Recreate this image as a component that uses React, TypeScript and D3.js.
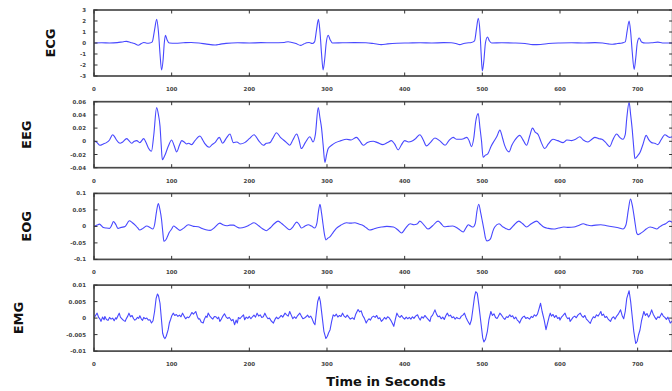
import React from 'react';
import * as d3 from 'd3';

// [time (s), amplitude]
const ecgData: [number, number][] = [
  [0, 0], [10, 0.02], [20, 0], [30, 0.03], [38, 0.12], [42, 0.15], [47, 0.05], [52, -0.05], [57, -0.2], [61, -0.05],
  [64, 0.05], [68, -0.02], [72, 0], [75, 0.1], [78, 1.2], [80.7, 2.15], [83, 1.0], [85, -1.0], [87, -2.45], [89, -1.5],
  [90.5, 0], [92, 0.7], [94, 0.3], [97, 0], [105, -0.02], [115, 0.02], [125, 0.05], [135, 0], [145, -0.1], [156, -0.18],
  [163, -0.1], [170, -0.03], [185, 0.02], [200, 0], [215, 0.03], [230, 0.02], [245, 0.05], [250, 0.12], [255, 0.05],
  [260, -0.05], [266, -0.22], [270, -0.1], [274, 0.02], [277, 0.05], [281, -0.05], [284, 0.1], [286.5, 1.2], [289, 2.15],
  [291, 1.0], [293, -1.0], [295, -2.45], [297, -1.5], [299, 0], [301.6, 0.7], [304, 0.3], [307, 0], [320, 0.02],
  [335, 0.03], [350, 0.02], [360, -0.05], [370, -0.15], [378, -0.08], [390, -0.02], [405, 0], [420, 0.02], [435, 0],
  [450, 0.03], [460, 0.02], [466, -0.05], [471, -0.15], [476, -0.05], [480, 0], [486, 0.05], [490, 0.2], [492.5, 1.3],
  [494.8, 2.25], [497, 1.0], [498.5, -1.0], [500, -2.55], [502, -1.6], [504, 0], [506.6, 0.55], [509, 0.2], [512, 0],
  [525, 0.02], [540, 0], [555, -0.05], [565, -0.15], [575, -0.13], [585, -0.05], [600, 0], [615, 0.02], [630, 0],
  [645, 0.03], [655, 0], [662, -0.08], [668, -0.12], [674, -0.05], [680, 0], [684, 0.1], [686.5, 1.1], [689, 2.0],
  [691, 1.0], [693, -0.8], [695.5, -2.4], [697.5, -1.4], [699.5, 0], [702, 0.45], [705, 0.1], [710, 0], [718, 0.02],
  [726, 0.08], [732, 0], [745, 0],
];

const eegData: [number, number][] = [
  [0, 0.001], [4, -0.002], [7.7, -0.006], [12, -0.004], [16, -0.002], [20, 0.002], [24, 0.01], [27, 0.006], [29, 0.002],
  [33.5, -0.003], [37, -0.001], [42, 0.004], [45, 0.001], [48.5, -0.003], [52, 0], [55, 0.001], [59, -0.002], [64, 0.004],
  [67, -0.002], [70, -0.01], [74, -0.015], [77, 0.01], [80.6, 0.051], [83, 0.04], [85, 0.023], [86.5, -0.005],
  [88, -0.028], [91, -0.022], [95.5, -0.008], [100, 0.002], [103, -0.006], [106.5, -0.016], [110, -0.006], [113, 0.001],
  [116, -0.001], [119.5, -0.004], [122, -0.003], [125.6, -0.005], [130, 0.001], [136.4, 0.008], [140, 0.002],
  [143, -0.004], [148.4, -0.009], [152, -0.005], [155.7, -0.002], [161.3, 0.006], [165.6, -0.003], [170, 0.004],
  [175, 0.011], [179.5, -0.002], [184, -0.001], [188, -0.004], [194, -0.002], [200, 0.004], [206, 0.01], [212, 0.001],
  [218, -0.006], [222, -0.003], [226.5, -0.002], [230, 0.004], [235, 0.013], [240, 0.006], [244, 0.002], [248, -0.002],
  [252, -0.006], [256, 0.002], [261, 0.011], [264, 0.002], [267, -0.011], [272, -0.002], [278, 0.007], [282, -0.001],
  [285, 0.01], [288.7, 0.051], [291, 0.035], [293, 0.02], [295, -0.005], [297.3, -0.032], [299.5, -0.02],
  [301.6, -0.011], [306, -0.006], [311, -0.002], [318, 0.001], [325, 0.003], [331, 0.002], [338, 0.006], [342, 0.001],
  [346.7, -0.006], [352, -0.002], [359.5, 0], [365, -0.002], [372, -0.005], [378, -0.002], [383, 0.001], [387, -0.004],
  [391.7, -0.013], [396, -0.005], [400, 0.001], [405, -0.001], [409, 0], [414, 0.004], [419.6, 0.01], [424, 0.002],
  [428, -0.007], [433, -0.002], [439, 0.005], [445, 0.001], [452, -0.006], [457, 0.001], [462.4, 0.006], [467, 0.003],
  [471, 0.003], [476, 0.004], [480, 0.006], [483, 0.001], [486, -0.008], [489, 0.005], [491.5, 0.03], [494.7, 0.042],
  [497, 0.02], [499, 0], [501, -0.024], [504, -0.021], [507, -0.019], [511.5, -0.007], [516, 0.002], [519, 0.008],
  [522.6, 0.017], [526, 0.005], [529, -0.007], [534.5, -0.016], [538, -0.006], [542, 0.002], [548.3, 0.009],
  [552, 0.003], [557, -0.006], [561, 0.008], [564.6, 0.02], [568, 0.014], [572, 0.01], [576, -0.002], [580.4, -0.011],
  [585, -0.004], [591, 0.003], [597, 0.001], [604, -0.002], [609, 0.002], [615, 0.001], [620, 0.003], [625.5, 0.007],
  [630, 0.002], [636, -0.001], [641, 0.003], [645, 0.006], [650, 0.004], [654, 0.003], [659, -0.002], [664, -0.008],
  [668, 0.002], [673, 0.011], [677, 0.006], [681, 0.003], [684, 0.01], [686, 0.035], [689, 0.059], [691, 0.04],
  [693, 0.018], [695, -0.01], [696.4, -0.026], [700, -0.022], [703, -0.017], [707, -0.004], [711, 0.009], [714, 0.003],
  [718, -0.002], [722, -0.003], [726, -0.005], [730, 0.002], [735, 0.01], [741, 0.006], [745, 0.007],
];

const eogData: [number, number][] = [
  [0, 0], [4, 0.004], [7, 0.007], [12, -0.003], [16, -0.005], [20, -0.006], [23, 0.005], [25, 0.015], [28, 0.006],
  [31, -0.006], [35, -0.003], [40, 0], [45.5, 0.017], [49, 0.012], [53, 0.004], [56, -0.004], [59, -0.011], [63, -0.006],
  [68, 0.001], [72, -0.003], [75.7, -0.008], [78, 0.005], [80.5, 0.045], [82.8, 0.069], [85, 0.05], [87, 0.02],
  [88.5, -0.015], [90, -0.045], [92, -0.042], [94, -0.034], [97, -0.018], [100, -0.008], [102.5, 0.001], [106, -0.004],
  [110.7, -0.012], [115, -0.006], [121.5, 0.005], [128, 0], [134, -0.001], [139, -0.006], [144, -0.01], [149.6, -0.012],
  [155, -0.004], [162, 0.01], [166, 0.005], [171, 0.002], [175, 0.004], [179.5, 0.004], [184, -0.002], [188, -0.005],
  [194.5, -0.002], [200, 0.004], [206, 0.011], [212, 0.002], [217, -0.007], [222, -0.013], [227, -0.004], [232, 0.008],
  [237, 0.016], [242, 0.008], [246, 0], [252, -0.01], [256, -0.002], [261, 0.013], [264, 0.006], [267, -0.005],
  [271, 0], [276, 0.005], [280, 0.001], [284, -0.005], [287, 0.01], [289, 0.045], [291, 0.067], [293, 0.04], [295, 0.005],
  [296.8, -0.025], [298.6, -0.041], [301, -0.036], [304, -0.031], [308, -0.018], [312, -0.006], [318, 0.004],
  [325, 0.011], [330, 0.01], [336, 0.011], [341, 0.007], [347, 0.002], [351, -0.005], [355, -0.011], [360, -0.008],
  [364, -0.005], [370, -0.002], [377, 0], [385.6, -0.002], [391, -0.01], [396, -0.02], [401, -0.006], [407, 0.008],
  [412, 0.005], [416, 0.007], [419.6, 0.016], [425, 0.004], [430, -0.008], [436, 0.002], [443, 0.016], [447, 0.008],
  [451, -0.001], [456, 0], [462, 0.001], [469, -0.007], [475.5, -0.017], [479, -0.004], [482, 0.005], [485, 0.001],
  [488, -0.002], [491, 0.01], [493, 0.045], [495.4, 0.067], [498, 0.04], [500, 0.016], [502.5, -0.015], [504, -0.035],
  [506, -0.044], [508.5, -0.042], [511, -0.035], [513.5, -0.015], [516, -0.002], [521.5, 0.008], [526.7, -0.002],
  [530, -0.006], [534.5, -0.01], [540, 0.002], [547, 0.016], [552, 0.008], [557, -0.002], [563, 0.008], [570, 0.016],
  [574, 0.008], [579, -0.002], [585, -0.006], [592, -0.008], [598, -0.005], [605, -0.002], [611, -0.003], [618, -0.002],
  [624, 0.003], [630, 0.008], [635, 0.004], [640, 0.002], [646, 0.004], [652.6, 0.005], [660, 0.002], [669.8, -0.002],
  [675, -0.004], [681, -0.008], [685, 0.005], [688, 0.05], [690.8, 0.083], [693, 0.065], [695, 0.037], [697, 0.005],
  [698.8, -0.02], [700.5, -0.025], [703, -0.022], [707, -0.016], [711, -0.008], [716, -0.002], [720, -0.004],
  [724.6, -0.008], [728, -0.002], [731, 0.003], [736, 0.008], [741, 0.016], [745, 0.012],
];

const emgData: [number, number][] = [
  [0, 0], [2, 0.0008], [4, 0.0015], [6, 0.0002], [7.7, -0.0003], [9, -0.001], [11, 0.0003], [13, -0.0005], [14, 0.0005],
  [16, -0.0004], [18, -0.0007], [20, 0.0002], [22, -0.0003], [24, 0], [26, -0.0008], [28, 0.0001], [29, -0.0003],
  [31, 0.0008], [32.5, 0.0015], [34, 0.0003], [36, -0.0002], [38, -0.0007], [40, -0.001], [42, 0], [43.5, 0.0006],
  [45, 0.0015], [47, 0.0004], [49, 0.0008], [51, -0.0002], [52.5, -0.0006], [54, -0.0004], [56, 0.0002],
  [57.5, -0.0001], [59, 0.0007], [61, -0.0003], [62.5, -0.0007], [64, 0.0002], [66, -0.0002], [68, 0], [70, -0.0006],
  [72, -0.0005], [74, -0.0015], [76, -0.0008], [78, 0.002], [80, 0.006], [81.7, 0.0073], [83, 0.0068], [85, 0.0045],
  [86.5, 0.0005], [88.4, -0.0046], [90, -0.0058], [91.4, -0.0062], [93, -0.0055], [95.5, -0.0035], [97, -0.0015],
  [98.5, -0.0005], [100, 0.0006], [102, 0.0015], [104, 0.0008], [106, 0.0011], [108, 0.0005], [110, 0.0009],
  [112, 0.0004], [114, 0.0015], [116, 0.0006], [118, -0.0002], [120, 0.0003], [122, 0.0001], [124, 0.0008],
  [126, 0.0017], [128, 0.0012], [131, 0.002], [133, 0.0005], [134.5, -0.0003], [136, -0.0002], [138, -0.0012],
  [140.6, -0.0015], [142, -0.0004], [144, 0.0006], [145.5, 0.0002], [147, 0.0015], [149, 0.0007], [151, 0.0001],
  [153, -0.0003], [155, 0.0005], [157, 0.0004], [159, -0.0002], [160.5, 0.0003], [162, -0.001], [164, -0.0003],
  [166, 0.0006], [168, 0.0013], [170, 0.0004], [172, -0.0001], [174, 0.0002], [175.5, -0.0002], [177, -0.0008],
  [179, -0.0004], [181, -0.002], [183, -0.0006], [184.5, -0.0015], [186, 0.0002], [188, -0.0002], [190, 0.0004],
  [192.5, 0.001], [194, -0.0005], [196, 0.0003], [198, -0.0001], [200, 0.0005], [202, -0.0002], [204, 0.0004],
  [206, 0.0009], [208, 0.0003], [210, 0.0015], [212, 0.0006], [214, 0.001], [216, 0.0002], [218, 0.0004],
  [220, 0.0015], [222, 0.0005], [224, -0.0002], [226, 0], [228, -0.0008], [231, -0.0015], [233, -0.0004],
  [235, 0.0003], [237, -0.0002], [239, 0.0002], [241, 0.0008], [243, 0.0003], [246, 0.0015], [248, 0.001],
  [250, 0.0006], [252, 0.002], [254, 0.0009], [256, -0.0002], [258, 0.0004], [260, -0.0001], [262, 0.0007],
  [265, 0.0015], [267, 0.0006], [269, -0.0002], [271, 0], [273, 0.0004], [275, 0.0009], [277, 0.0002], [279, 0.0006],
  [281, -0.0003], [283, -0.0015], [284.5, -0.002], [286, 0.001], [288, 0.005], [290, 0.0065], [291.5, 0.005], [294, 0],
  [296, -0.004], [298.6, -0.0062], [300.5, -0.0055], [302, -0.0045], [304, -0.0035], [306, -0.001], [308, 0.001],
  [310, 0.0006], [312, 0.0012], [314, 0.0003], [316, 0.0008], [318, 0.0005], [320, 0.0015], [322, 0.0006],
  [324, 0.0002], [326, 0.0009], [328, 0.0003], [330, -0.0003], [333, 0.0001], [335, -0.0004], [337, 0.0012],
  [340, 0.0026], [342, 0.0019], [344, 0.0022], [346, 0.0008], [348, 0], [350.5, -0.0015], [352, -0.0008],
  [354, -0.0002], [356, -0.0006], [358, 0.0003], [360, 0.0006], [362, 0.0002], [364, 0.0008], [366, -0.0002],
  [368, 0.0001], [370, -0.001], [372, -0.0005], [374, 0.0002], [376, -0.0003], [378, 0.0004], [380, 0.0001],
  [382, -0.0006], [384, -0.0015], [386, -0.0025], [388, -0.0004], [390, 0.0015], [392, 0.0006], [394, 0.0002],
  [396, 0.0008], [398, 0.0001], [400, -0.0003], [402, 0.0003], [404, -0.0002], [406, 0.0002], [408, -0.0003],
  [410, 0.0004], [412, -0.0001], [414, 0.0006], [416.6, 0.001], [418, 0.0002], [420, -0.0006], [422, 0.0004], [424, 0],
  [426, 0.0008], [428, 0.0002], [430, -0.0003], [432.6, -0.001], [434, 0.0004], [436, 0.0009], [439, 0.0025],
  [441, 0.0012], [443, 0.0004], [445, 0.0006], [447, -0.0002], [449, 0.0003], [451, -0.0004], [453, 0.0007],
  [455, 0.0015], [457, 0.0006], [459, 0.0009], [461, 0.0001], [463, 0.0004], [465, -0.0003], [467, 0.0002],
  [469, -0.0001], [471, -0.0002], [473, 0.0006], [475, 0.0009], [477, 0.0015], [479, 0.0002], [481, -0.0008],
  [484, -0.002], [486, -0.0005], [488, 0.003], [490, 0.0065], [491.5, 0.008], [493.5, 0.0075], [495.5, 0.004],
  [497, 0.001], [498.5, -0.002], [500.5, -0.006], [502, -0.0072], [504, -0.0065], [506.5, -0.004], [508.5, -0.0005],
  [511, 0.002], [513, 0.0008], [515, 0.0013], [517, 0.0002], [519, -0.0001], [520.5, 0.0005], [522.6, 0.0015],
  [525, 0.0008], [527, 0.0001], [529, -0.0004], [531, 0.0004], [533, 0.0002], [535.4, 0.001], [537, 0.0004],
  [539, 0.0007], [541, -0.0002], [543, 0.0003], [545, -0.0006], [546.5, -0.0009], [548, -0.0015], [550, -0.0004],
  [552, 0.0003], [554, 0.0006], [556, -0.0001], [558, 0.0002], [561, -0.0003], [563, 0.0005], [565, 0.0002],
  [567, 0.001], [569, 0.0006], [571, 0.0012], [573, 0.0028], [575, 0.0045], [577, 0.002], [579.7, -0.0006],
  [582, -0.0035], [584, -0.0015], [586, 0.0004], [587.5, 0.0015], [589, 0.0006], [591, 0.0011], [593, 0.0002],
  [595, 0.0008], [597, -0.0001], [599, 0.0002], [600, -0.0006], [602, 0.0003], [604, 0.0008], [606.5, 0.0015],
  [608, 0.0005], [610, -0.0002], [612, 0.0001], [613, -0.001], [615, -0.0004], [617, 0.0003], [619, 0.0006],
  [621, 0.0001], [623, 0.0009], [626, 0.0015], [628, 0.0007], [630, 0.0002], [632, 0.0008], [634, -0.0003],
  [636, -0.0008], [639, -0.0016], [641, -0.0004], [643, 0.0004], [645, 0.0001], [647, 0.001], [649, 0.0006],
  [651, 0.0013], [652.6, 0.002], [654, 0.0008], [656, 0.0012], [658, 0.0002], [660, 0.0005], [662, -0.0003],
  [665, -0.001], [667, 0], [669, 0.0004], [671, -0.0003], [673, 0.0006], [675, 0.0012], [678, 0.0025], [680, 0.0008],
  [682, -0.0002], [684, 0.002], [686, 0.006], [689, 0.0083], [691, 0.005], [693, 0.0005], [695, -0.004],
  [697.5, -0.0077], [699.5, -0.007], [701, -0.0052], [703, -0.0036], [705, -0.0008], [708, 0.002], [710, 0.0008],
  [712, 0.0014], [714, 0.0003], [716, 0.0011], [718, 0.0025], [720, 0.0012], [722, 0.0003], [724, -0.0004],
  [726, 0.0004], [728, 0.0001], [731, 0.0015], [733, 0.0006], [735, 0.0002], [737, -0.0004], [739, 0.0003],
  [742, -0.0015], [745, -0.0008],
];

const channelNames = ['ECG', 'EEG', 'EOG', 'EMG'];
const xTicks = [0, 100, 200, 300, 400, 500, 600, 700];
const ecgTicks = [-3, -2, -1, 0, 1, 2, 3];
const eegTicks = [-0.04, -0.02, 0, 0.02, 0.04, 0.06];
const eogTicks = [-0.1, -0.05, 0, 0.05, 0.1];
const emgTicks = [-0.01, -0.005, 0, 0.005, 0.01];
const xLabel = 'Time in Seconds';

const channels = [
  { name: channelNames[0], data: ecgData, ticks: ecgTicks, smooth: true },
  { name: channelNames[1], data: eegData, ticks: eegTicks, smooth: true },
  { name: channelNames[2], data: eogData, ticks: eogTicks, smooth: true },
  { name: channelNames[3], data: emgData, ticks: emgTicks, smooth: false },
];

const width = 672;
const height = 391;
const left = 94;
const right = 672.6;
const panelTop = 10;
const panelStep = 91.7;
const panelH = 66;
const fmt = (v: number) => String(+v.toFixed(4));

const App = () => {
  const x = d3.scaleLinear().domain([0, 745]).range([left, right]);

  return (
    <svg
      width={width}
      height={height}
      style={{ position: 'absolute', left: 0, top: 0, background: '#fff', fontFamily: 'DejaVu Sans' }}
    >
      <defs>
        {channels.map((c, i) => (
          <clipPath key={c.name} id={`clip-${i}`}>
            <rect x={left} y={panelTop + i * panelStep} width={right - left} height={panelH} />
          </clipPath>
        ))}
      </defs>

      {channels.map((c, i) => {
        const top = panelTop + i * panelStep;
        const bottom = top + panelH;
        const ext = d3.extent(c.ticks) as [number, number];
        const y = d3.scaleLinear().domain(ext).range([bottom, top]);
        const line = d3.line<[number, number]>()
          .x(d => x(d[0]))
          .y(d => y(d[1]))
          .curve(c.smooth ? d3.curveMonotoneX : d3.curveLinear);
        const maxChars = d3.max(c.ticks, t => fmt(t).length) || 1;
        const labelX = 50 - (maxChars - 2) * 8;

        return (
          <g key={c.name}>
            {/* signal */}
            <path
              d={line(c.data) || ''}
              fill="none"
              stroke="#4848ff"
              strokeWidth={1.1}
              strokeLinejoin="round"
              clipPath={`url(#clip-${i})`}
            />

            {/* frame */}
            <rect x={left} y={top} width={right - left} height={panelH} fill="none" stroke="#4a4a4a" strokeWidth={1.7} />

            {/* x ticks, inside top and bottom */}
            {xTicks.map(t => (
              <g key={`x-${t}`}>
                <line x1={x(t)} x2={x(t)} y1={top} y2={top + 3.5} stroke="#333" strokeWidth={1} />
                <line x1={x(t)} x2={x(t)} y1={bottom} y2={bottom - 3.5} stroke="#333" strokeWidth={1} />
                <text x={x(t)} y={bottom + 15} textAnchor="middle" fill="#444" style={{ fontSize: '5.5px', fontWeight: 'bold' }}>
                  {t}
                </text>
              </g>
            ))}

            {/* y ticks */}
            {c.ticks.map(t => (
              <g key={`y-${t}`}>
                <line x1={left} x2={left + 3.5} y1={y(t)} y2={y(t)} stroke="#333" strokeWidth={1} />
                <line x1={right} x2={right - 3.5} y1={y(t)} y2={y(t)} stroke="#333" strokeWidth={1} />
                <text x={86} y={y(t) + 2} textAnchor="end" fill="#444" style={{ fontSize: '5.5px', fontWeight: 'bold' }}>
                  {fmt(t)}
                </text>
              </g>
            ))}

            {/* channel label */}
            <text
              transform={`translate(${labelX}, ${(top + bottom) / 2}) rotate(-90)`}
              textAnchor="middle"
              dominantBaseline="central"
              fill="#111"
              style={{ fontSize: '13px', fontWeight: 'bold' }}
            >
              {c.name}
            </text>
          </g>
        );
      })}

      <text x={386} y={385.5} textAnchor="middle" fill="#111" style={{ fontSize: '13px', fontWeight: 'bold' }}>
        {xLabel}
      </text>
    </svg>
  );
};

export default App;
